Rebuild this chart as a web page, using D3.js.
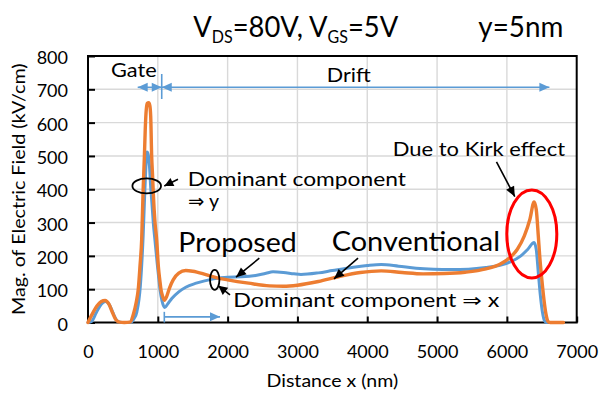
<!DOCTYPE html>
<html>
<head>
<meta charset="utf-8">
<script src="https://cdn.jsdelivr.net/npm/d3@7"></script>
<style>
  html, body { margin: 0; padding: 0; background: #fff; }
  svg { display: block; font-family: Lato, "Open Sans", "DejaVu Sans", sans-serif; }
</style>
</head>
<body>
<svg id="chart" width="602" height="394"></svg>
<script>
// Electric field magnitude along the channel, y = 5 nm (kV/cm vs nm)
const proposedX = [0, 50, 120, 190, 255, 310, 360, 410, 460, 520, 620, 660, 700, 750, 790, 815, 830, 845, 862, 880, 900, 915, 935, 960, 990, 1010, 1032, 1060, 1099, 1140, 1200, 1300, 1400, 1550, 1800, 2000, 2200, 2400, 2550, 2650, 2800, 2950, 3050, 3300, 3500, 3800, 4000, 4200, 4450, 4700, 4950, 5200, 5450, 5700, 5900, 6050, 6200, 6300, 6390, 6420, 6450, 6480, 6510, 6540, 6570];
const proposedY = [0, 3, 30, 55, 63, 52, 28, 7, 1, 0, 1, 12, 32, 110, 260, 400, 470, 512, 505, 470, 400, 360, 300, 245, 180, 140, 98, 65, 45, 55, 72, 92, 106, 118, 131, 136, 137, 141, 148, 152, 150, 146, 144, 149, 156, 166, 171, 174, 169, 163, 160, 159, 160, 165, 172, 182, 200, 220, 240, 220, 150, 80, 30, 5, 0];

const conventionalX = [0, 60, 130, 190, 245, 300, 350, 400, 450, 520, 600, 650, 690, 720, 745, 769, 790, 808, 820, 835, 850, 870, 885, 898, 912, 925, 936, 960, 984, 1008, 1030, 1046, 1070, 1094, 1130, 1170, 1220, 1300, 1400, 1500, 1700, 1850, 2000, 2300, 2600, 2800, 3000, 3300, 3600, 3900, 4200, 4500, 4800, 5100, 5400, 5700, 5900, 6050, 6150, 6250, 6330, 6390, 6420, 6450, 6470, 6500, 6530, 6560, 6590, 6620, 6810];
const conventionalY = [0, 25, 50, 63, 66, 55, 30, 8, 1, 0, 1, 25, 60, 100, 170, 250, 400, 500, 580, 640, 658, 660, 652, 620, 500, 440, 385, 300, 248, 168, 125, 98, 78, 67, 80, 105, 128, 148, 156, 154, 143, 134, 128, 118, 110, 109, 112, 123, 138, 150, 155, 150, 146, 147, 151, 161, 175, 196, 220, 260, 310, 362, 340, 260, 200, 130, 70, 25, 3, 0, 0];

const xTicks = [0, 1000, 2000, 3000, 4000, 5000, 6000, 7000];
const yTicks = [0, 100, 200, 300, 400, 500, 600, 700, 800];

const BLUE = "#5B9BD5", ORANGE = "#ED7D31";

const svg = d3.select("#chart");
const plotLeft = 88, plotRight = 576.7, plotTop = 56, plotBottom = 322.5;

const x = d3.scaleLinear().domain([0, 7000]).range([plotLeft, plotRight]);
const y = d3.scaleLinear().domain([0, 800]).range([plotBottom, plotTop]);

// text helper: fixed baseline position and rendered width
function label(px, py, str, size, width, opts = {}) {
  const t = svg.append("text")
    .attr("x", px).attr("y", py)
    .attr("font-size", size)
    .attr("fill", opts.fill || "#000")
    .attr("text-anchor", opts.anchor || "start")
    .text(str);
  if (width) t.attr("textLength", width).attr("lengthAdjust", "spacingAndGlyphs");
  return t;
}

// gridlines
svg.append("g").selectAll("line")
  .data(yTicks.filter(d => d > 0 && d < 800))
  .join("line")
  .attr("x1", plotLeft).attr("x2", plotRight)
  .attr("y1", d => y(d)).attr("y2", d => y(d))
  .attr("stroke", "#D9D9D9").attr("stroke-width", 1.4);
svg.append("g").selectAll("line")
  .data(xTicks.filter(d => d > 0 && d < 7000))
  .join("line")
  .attr("y1", plotTop).attr("y2", plotBottom)
  .attr("x1", d => x(d)).attr("x2", d => x(d))
  .attr("stroke", "#D9D9D9").attr("stroke-width", 1.4);

// axes with inward ticks
const xAxis = svg.append("g")
  .attr("transform", `translate(0,${plotBottom})`)
  .call(d3.axisBottom(x).tickValues(xTicks).tickSize(-6).tickFormat(d3.format("d")));
const yAxis = svg.append("g")
  .attr("transform", `translate(${plotLeft},0)`)
  .call(d3.axisLeft(y).tickValues(yTicks).tickSize(-7).tickFormat(d3.format("d")));
[xAxis, yAxis].forEach(g => {
  g.select(".domain").remove();
  g.selectAll(".tick line").attr("stroke", "#000").attr("stroke-width", 2);
  g.selectAll(".tick text").attr("font-size", 18).attr("fill", "#000")
    .attr("font-family", "Lato, 'Open Sans', sans-serif");
});
yAxis.selectAll(".tick text").attr("x", -20).attr("dy", "0.42em");
xAxis.selectAll(".tick text").attr("y", 35).attr("dy", "0");

// plot frame
svg.append("rect")
  .attr("x", plotLeft).attr("y", plotTop)
  .attr("width", plotRight - plotLeft).attr("height", plotBottom - plotTop)
  .attr("fill", "none").attr("stroke", "#000").attr("stroke-width", 2);

// series
const line = d3.line().x(d => x(d[0])).y(d => y(d[1])).curve(d3.curveMonotoneX);
const proposed = d3.zip(proposedX, proposedY);
const conventional = d3.zip(conventionalX, conventionalY);
svg.append("path").datum(proposed).attr("d", line)
  .attr("fill", "none").attr("stroke", BLUE).attr("stroke-width", 3)
  .attr("stroke-linejoin", "round").attr("stroke-linecap", "round");
svg.append("path").datum(conventional).attr("d", line)
  .attr("fill", "none").attr("stroke", ORANGE).attr("stroke-width", 3.4)
  .attr("stroke-linejoin", "round").attr("stroke-linecap", "round");

// arrows: line with a filled triangular head at (x2,y2)
function arrow(x1, y1, x2, y2, color, w, len, half, both) {
  svg.append("line").attr("x1", x1).attr("y1", y1).attr("x2", x2).attr("y2", y2)
    .attr("stroke", color).attr("stroke-width", w);
  const head = (ax, ay, bx, by) => {
    const a = Math.atan2(by - ay, bx - ax);
    const p = [[bx, by],
      [bx - len * Math.cos(a) + half * Math.sin(a), by - len * Math.sin(a) - half * Math.cos(a)],
      [bx - len * Math.cos(a) - half * Math.sin(a), by - len * Math.sin(a) + half * Math.cos(a)]];
    svg.append("path").attr("d", "M" + p.join("L") + "Z").attr("fill", color);
  };
  head(x1, y1, x2, y2);
  if (both) head(x2, y2, x1, y1);
}

// gate / drift region markers
const regionY = y(706), gateStart = 712, gateEnd = 1056, driftEnd = 6609;
arrow(x(gateStart), regionY, x(gateEnd), regionY, BLUE, 1.6, 10, 4.5, true);
arrow(x(gateEnd), regionY, x(driftEnd), regionY, BLUE, 1.6, 10, 4.5, true);
svg.append("line").attr("x1", x(gateEnd)).attr("x2", x(gateEnd))
  .attr("y1", y(746)).attr("y2", y(671)).attr("stroke", BLUE).attr("stroke-width", 1.6);
label(x(330), y(736), "Gate", 20, 45.7);
label(x(3420), y(723), "Drift", 20, 44);

// x-direction marker near the bottom
svg.append("line").attr("x1", x(1093)).attr("x2", x(1093))
  .attr("y1", y(32)).attr("y2", y(0)).attr("stroke", BLUE).attr("stroke-width", 1.6);
arrow(x(1093), y(17), x(1891), y(17), BLUE, 1.6, 10, 4.5, false);

// callouts
svg.append("ellipse").attr("cx", x(841)).attr("cy", y(410)).attr("rx", 14.3).attr("ry", 7.5)
  .attr("fill", "none").attr("stroke", "#000").attr("stroke-width", 1.8);
arrow(x(1289), y(430), x(1093), y(410), "#000", 1.6, 9, 4.5, false);
label(x(1428), y(410), "Dominant component", 20, 218.3);
label(x(1433), y(344), "⇒ y", 20, 31);

svg.append("ellipse").attr("cx", x(1815)).attr("cy", y(128)).attr("rx", 4.7).attr("ry", 10)
  .attr("fill", "none").attr("stroke", "#000").attr("stroke-width", 1.8);
arrow(x(2034), y(83), x(1867), y(110), "#000", 1.6, 9, 4.5, false);
label(x(2082), y(45.6), "Dominant component ⇒ x", 19, 266);

label(x(1294), y(212.5), "Proposed", 27, 118.4);
arrow(x(2454), y(193), x(2120), y(136), "#000", 1.6, 10, 4.5, false);
label(x(3491), y(214.6), "Conventional", 27, 168.3);
arrow(x(3868), y(193), x(3524), y(131), "#000", 1.6, 10, 4.5, false);

svg.append("ellipse").attr("cx", x(6357)).attr("cy", y(266)).attr("rx", 25).attr("ry", 44)
  .attr("fill", "none").attr("stroke", "#FF0000").attr("stroke-width", 3);
label(x(4365), y(500), "Due to Kirk effect", 20, 172.3);
arrow(x(5851), y(482), x(6113), y(378), "#000", 1.6, 10, 4.5, false);

// axis titles
label((plotLeft + plotRight) / 2, 386.7, "Distance x (nm)", 17.5, 131.6, { anchor: "middle" });
svg.append("text")
  .attr("transform", `translate(25,${(plotTop + plotBottom) / 2}) rotate(-90)`)
  .attr("text-anchor", "middle").attr("font-size", 17.5)
  .attr("textLength", 251.7).attr("lengthAdjust", "spacingAndGlyphs")
  .text("Mag. of Electric Field (kV/cm)");

// heading with subscripts, fitted to its width
function heading(px, py, parts, width) {
  const t = svg.append("text").attr("font-size", 29);
  parts.forEach(([s, sub], i) => {
    const prevSub = i > 0 && parts[i - 1][1];
    t.append("tspan").attr("font-size", sub ? 17 : 29)
      .attr("dy", sub ? 6.5 : (prevSub ? -6.5 : 0)).text(s);
  });
  const w = t.node().getComputedTextLength();
  t.attr("transform", `translate(${px},${py}) scale(${width / w},1)`);
}
heading(193.3, 36.7, [["V", 0], ["DS", 1], ["=80V, V", 0], ["GS", 1], ["=5V", 0]], 205);
heading(478.3, 36.7, [["y=5nm", 0]], 85);
</script>
</body>
</html>
